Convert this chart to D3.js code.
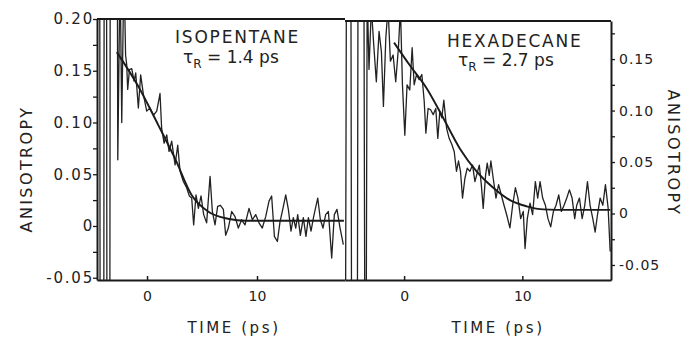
<!DOCTYPE html>
<html>
<head>
<meta charset="utf-8">
<script src="https://cdn.jsdelivr.net/npm/d3@7"></script>
<style>
  html, body { margin: 0; padding: 0; background: #fff; }
  svg { display: block; }
  text { font-family: "DejaVu Sans", sans-serif; fill: #222; }
</style>
</head>
<body>
<div id="chart"></div>
<script>
// ---- data (time in ps, anisotropy) ----
const leftT = [-4.3, -4.27, -3.93, -3.9, -3.68, -3.65, -3.38, -3.35, -2.7, -2.66, -2.45, -2.3, -2.1, -1.95,
  -1.85, -1.76, -1.6, -1.39, -1.18, -1.03, -0.79, -0.58, -0.33, -0.03, 0.27, 0.58, 0.88, 1.18, 1.33, 1.55,
  1.79, 2.0, 2.24, 2.55, 2.79, 3.0, 3.3, 3.6, 3.85, 4.06, 4.24, 4.45, 4.67, 4.91, 5.15, 5.42, 5.73, 5.94,
  6.18, 6.42, 6.67, 6.94, 7.15, 7.39, 7.7, 8.0, 8.3, 8.6, 8.91, 9.27, 9.58, 9.88, 10.18, 10.48, 10.79,
  11.09, 11.33, 11.58, 11.85, 12.09, 12.36, 12.61, 12.85, 13.09, 13.3, 13.52, 13.7, 13.94, 14.21, 14.45,
  14.67, 14.91, 15.15, 15.52, 15.76, 16.0, 16.24, 16.49, 16.79, 17.03, 17.27, 17.55, 17.85];
const leftV = [0.25, -0.08, -0.08, 0.25, 0.25, -0.08, -0.08, 0.25, 0.25, 0.064, 0.25, 0.10, 0.25, 0.165,
  0.156, 0.132, 0.151, 0.152, 0.140, 0.148, 0.114, 0.146, 0.127, 0.111, 0.114, 0.107, 0.111, 0.128, 0.094, 0.080,
  0.088, 0.072, 0.082, 0.059, 0.078, 0.053, 0.043, 0.037, 0.029, 0.027, 0.001, 0.030, 0.017, 0.029, 0.011, 0.003,
  0.048, 0.014, 0.001, 0.019, 0.020, 0.016, -0.009, -0.002, 0.014, 0.009, -0.002, 0.006, 0.001, 0.017, 0.006,
  0.011, 0.003, -0.002, 0.009, 0.024, 0.029, -0.010, -0.015, 0.004, 0.017, 0.030, 0.016, -0.005, 0.008, -0.002,
  0.011, -0.009, 0.008, -0.010, 0.008, -0.005, 0.009, 0.027, 0.006, -0.002, 0.011, 0.014, -0.031, 0.011, 0.016,
  -0.002, -0.018];
const leftFitT = [-2.75, -0.8, 1.0, 2.55, 4.05, 5.55, 7.35, 9.0, 12.0, 17.9];
const leftFitV = [0.168, 0.135, 0.098, 0.065, 0.030, 0.014, 0.007, 0.005, 0.005, 0.005];

const rightT = [-4.95, -4.88, -4.5, -4.45, -3.95, -3.9, -3.4, -3.33, -3.2, -3.12,
  -3.05, -2.97, -2.77, -2.57, -2.35, -2.12, -1.92, -1.75, -1.55, -1.36, -1.16, -0.93, -0.71, -0.48, -0.31,
  -0.14, 0.06, 0.25, 0.48, 0.68, 0.85, 1.05, 1.27, 1.5, 1.7, 1.84, 2.03, 2.23, 2.46, 2.68, 2.85, 3.02, 3.19,
  3.36, 3.59, 3.81, 4.04, 4.24, 4.43, 4.6, 4.77, 4.94, 5.14, 5.34, 5.56, 5.79, 5.99, 6.13, 6.36, 6.53, 6.69,
  6.89, 7.03, 7.2, 7.34, 7.54, 7.77, 7.99, 8.22, 8.45, 8.67, 8.95, 9.18, 9.41, 9.63, 9.86, 10.08, 10.23,
  10.42, 10.65, 10.87, 11.1, 11.3, 11.5, 11.72, 11.95, 12.17, 12.4, 12.63, 12.85, 13.08, 13.3, 13.53, 13.76,
  13.98, 14.21, 14.43, 14.6, 14.83, 15.06, 15.28, 15.51, 15.73, 15.96, 16.16, 16.36, 16.58, 16.81, 17.03,
  17.26, 17.43];
const rightV = [-0.09, 0.23, 0.23, -0.09, -0.09, 0.23, 0.23, -0.09, -0.09, 0.23,
  0.180, 0.140, 0.20, 0.164, 0.128, 0.177, 0.157, 0.104, 0.170, 0.20, 0.148, 0.154, 0.128, 0.161, 0.20,
  0.125, 0.076, 0.125, 0.120, 0.161, 0.125, 0.135, 0.130, 0.135, 0.109, 0.078, 0.102, 0.101, 0.096, 0.102,
  0.073, 0.099, 0.093, 0.110, 0.083, 0.073, 0.067, 0.060, 0.041, 0.051, 0.041, 0.015, 0.034, 0.044, 0.041,
  0.047, 0.031, 0.037, 0.047, 0.028, 0.005, 0.037, 0.049, 0.037, 0.051, 0.034, 0.015, 0.028, 0.018, 0.008,
  -0.001, -0.014, 0.008, 0.025, 0.015, -0.005, 0.002, -0.034, -0.005, 0.010, -0.001, 0.031, 0.015, 0.031,
  0.015, 0.008, -0.005, -0.013, 0.002, 0.008, 0.018, 0.002, 0.008, 0.015, 0.023, 0.015, -0.005, 0.008,
  0.015, -0.005, 0.008, 0.031, 0.008, -0.005, -0.018, -0.001, 0.015, 0.008, 0.028, 0.005, -0.037];
const rightFitT = [-0.85, 0.48, 1.89, 3.3, 4.72, 6.13, 7.54, 8.95, 10.37, 11.78, 14.0, 17.45];
const rightFitV = [0.166, 0.144, 0.122, 0.093, 0.063, 0.041, 0.025, 0.013, 0.007, 0.004, 0.0035, 0.0035];

// axis ticks
const timeTicks = [0, 10];
const leftYTicks = [0.20, 0.175, 0.15, 0.125, 0.10, 0.075, 0.05, 0.025, 0, -0.025, -0.05];
const leftYLabels = { "0.2": "0.20", "0.15": "0.15", "0.1": "0.10", "0.05": "0.05", "0": "0", "-0.05": "-0.05" };
const rightYTicks = [0.175, 0.15, 0.125, 0.10, 0.075, 0.05, 0.025, 0, -0.025, -0.05];
const rightYLabels = { "0.15": "0.15", "0.1": "0.10", "0.05": "0.05", "0": "0", "-0.05": "-0.05" };

const width = 689, height = 338;
const ink = "#1a1a1a";

const svg = d3.select("#chart").append("svg")
  .attr("width", width)
  .attr("height", height);

function pts(ts, vs) {
  const n = Math.min(ts.length, vs.length);
  return d3.range(n).map((i) => ({ t: ts[i], v: vs[i] }));
}

function drawPanel(p) {
  const x = d3.scaleLinear().domain(p.xDomain).range([p.left, p.right]);
  const y = d3.scaleLinear().domain(p.yDomain).range([p.bottom, p.top]);

  // clip so off-scale spikes stop at the frame
  svg.append("clipPath").attr("id", p.id)
    .append("rect")
    .attr("x", p.left).attr("y", p.top)
    .attr("width", p.right - p.left).attr("height", p.bottom - p.top);

  const line = d3.line().x((d) => x(d.t)).y((d) => y(d.v));

  svg.append("path")
    .datum(pts(p.dataT, p.dataV))
    .attr("clip-path", `url(#${p.id})`)
    .attr("fill", "none")
    .attr("stroke", "#222")
    .attr("stroke-width", 1.3)
    .attr("stroke-linejoin", "round")
    .attr("d", line);

  svg.append("path")
    .datum(pts(p.fitT, p.fitV))
    .attr("clip-path", `url(#${p.id})`)
    .attr("fill", "none")
    .attr("stroke", ink)
    .attr("stroke-width", 1.9)
    .attr("d", line.curve(d3.curveMonotoneX));

  // top frame line
  svg.append("line")
    .attr("x1", p.left).attr("x2", p.right)
    .attr("y1", p.top).attr("y2", p.top)
    .attr("stroke", ink).attr("stroke-width", 2);

  // bottom time axis, ticks point inward
  const xAxis = svg.append("g")
    .attr("transform", `translate(0,${p.bottom})`)
    .call(d3.axisBottom(x).tickValues(timeTicks).tickSizeInner(-4).tickSizeOuter(0).tickPadding(11)
      .tickFormat(d3.format("d")));
  xAxis.select(".domain").attr("stroke", ink).attr("stroke-width", 2);
  xAxis.selectAll(".tick line").attr("stroke", ink).attr("stroke-width", 1.5);
  xAxis.selectAll("text").attr("font-size", 14).attr("fill", "#222").attr("font-family", null);

  // anisotropy axis (left or right)
  const yAx = p.side === "left" ? d3.axisLeft(y) : d3.axisRight(y);
  const yAxis = svg.append("g")
    .attr("transform", `translate(${p.side === "left" ? p.left : p.right},0)`)
    .call(yAx.tickValues(p.yTicks).tickSizeInner(4).tickSizeOuter(0)
      .tickFormat((d) => p.yLabels[String(+d.toFixed(3))] || ""));
  yAxis.select(".domain").attr("stroke", ink).attr("stroke-width", 2);
  yAxis.selectAll(".tick line").attr("stroke", ink).attr("stroke-width", 1.3);
  yAxis.selectAll("text")
    .attr("font-size", p.labelSize)
    .attr("fill", "#222")
    .attr("font-family", null)
    .attr("letter-spacing", p.labelSpacing)
    .attr("x", p.labelX);

  // axis titles
  svg.append("text")
    .attr("x", p.timeTitleX).attr("y", 333)
    .attr("text-anchor", "middle")
    .attr("font-size", 15)
    .attr("letter-spacing", 2.6)
    .text("TIME (ps)");

  svg.append("text")
    .attr("transform", `translate(${p.yTitleX},${p.yTitleY}) rotate(${p.side === "left" ? -90 : 90})`)
    .attr("text-anchor", "middle")
    .attr("font-size", 16)
    .attr("letter-spacing", 2.4)
    .text("ANISOTROPY");

  // solvent and rotation time
  svg.append("text")
    .attr("x", p.nameX).attr("y", p.nameY)
    .attr("font-size", 17)
    .attr("letter-spacing", 1.8)
    .text(p.name);

  const tau = svg.append("text")
    .attr("x", p.tauX).attr("y", p.tauY)
    .attr("font-size", 17);
  tau.append("tspan").text("τ");
  tau.append("tspan").attr("dy", 5).attr("font-size", 12).text("R");
  tau.append("tspan").attr("dy", -5).text(p.tauText);
}

drawPanel({
  id: "clip-left",
  side: "left",
  left: 97, right: 345, top: 19, bottom: 280,
  xDomain: [-4.55, 18.0],
  yDomain: [-0.0522, 0.20],
  dataT: leftT, dataV: leftV,
  fitT: leftFitT, fitV: leftFitV,
  yTicks: leftYTicks, yLabels: leftYLabels,
  labelSize: 15, labelSpacing: 1.8, labelX: -3,
  timeTitleX: 234,
  yTitleX: 32, yTitleY: 169,
  name: "ISOPENTANE", nameX: 175, nameY: 43,
  tauX: 183, tauY: 63, tauText: " = 1.4 ps"
});

drawPanel({
  id: "clip-right",
  side: "right",
  left: 345, right: 611, top: 21, bottom: 280,
  xDomain: [-5.0, 17.5],
  yDomain: [-0.0646, 0.187],
  dataT: rightT, dataV: rightV,
  fitT: rightFitT, fitV: rightFitV,
  yTicks: rightYTicks, yLabels: rightYLabels,
  labelSize: 14, labelSpacing: 1, labelX: 8,
  timeTitleX: 498,
  yTitleX: 668, yTitleY: 153,
  name: "HEXADECANE", nameX: 447, nameY: 47,
  tauX: 458, tauY: 66, tauText: " = 2.7 ps"
});
</script>
</body>
</html>
